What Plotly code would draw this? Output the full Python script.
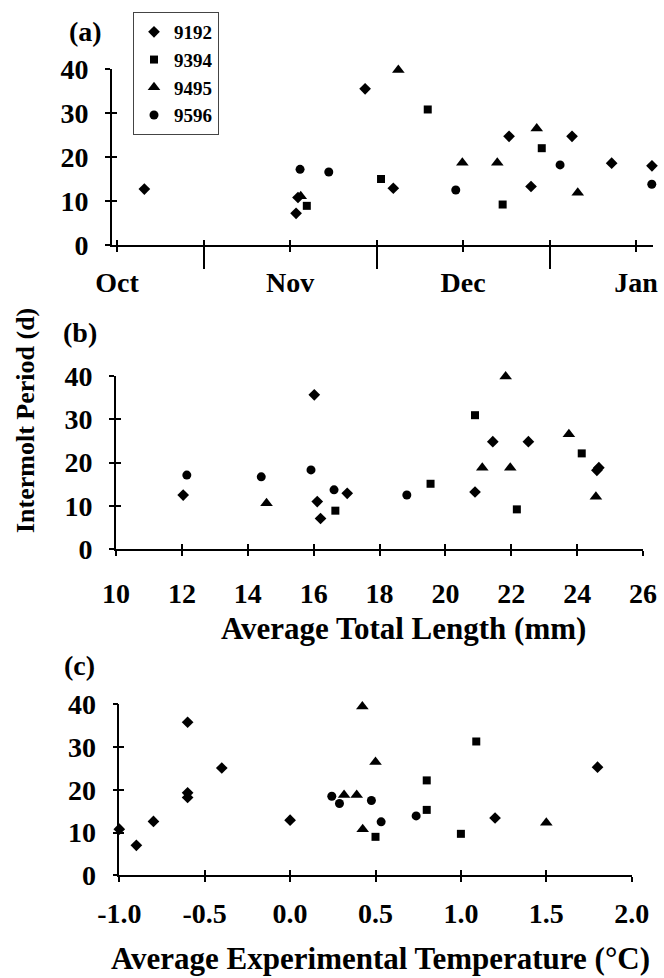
import plotly.graph_objects as go

W, H = 664, 978

# ---------------- data ----------------
series_names = ["9192", "9394", "9495", "9596"]
series_symbols = ["diamond", "square", "triangle-up", "circle"]
series_sizes = [9, 8, 11, 9]

# (a) date, in months since start of October
month_ticks = [0, 1, 2, 3]
month_labels = ["Oct", "Nov", "Dec", "Jan"]
month_mid_ticks = [0.5, 1.5, 2.5]

a_9192_x = [0.158, 1.035, 1.046, 1.434, 1.597, 2.266, 2.393, 2.630, 2.859, 3.092]
a_9192_y = [12.7, 7.2, 10.8, 35.5, 12.9, 24.7, 13.3, 24.7, 18.6, 18.0]
a_9394_x = [1.097, 1.526, 1.796, 2.229, 2.455]
a_9394_y = [8.9, 15.0, 30.8, 9.2, 22.0]
a_9495_x = [1.062, 1.626, 1.996, 2.198, 2.426, 2.663]
a_9495_y = [11.1, 39.8, 18.7, 18.7, 26.5, 11.9]
a_9596_x = [1.058, 1.224, 1.958, 2.561, 3.091]
a_9596_y = [17.2, 16.6, 12.5, 18.2, 13.8]

# (b) average total length (mm)
b_9192_x = [12.04, 16.02, 16.11, 16.21, 17.02, 20.90, 21.44, 22.52, 24.60, 24.66]
b_9192_y = [12.5, 35.6, 11.0, 7.1, 12.9, 13.2, 24.8, 24.8, 18.2, 18.8]
b_9394_x = [16.66, 19.55, 20.90, 22.17, 24.14]
b_9394_y = [8.9, 15.1, 30.9, 9.2, 22.1]
b_9495_x = [14.57, 21.12, 21.83, 21.97, 23.75, 24.57]
b_9495_y = [10.6, 18.8, 39.8, 18.8, 26.5, 12.1]
b_9596_x = [12.15, 14.41, 15.92, 16.62, 18.83]
b_9596_y = [17.1, 16.7, 18.3, 13.7, 12.5]

# (c) average experimental temperature (°C)
c_9192_x = [-1.0, -0.9, -0.8, -0.6, -0.6, -0.6, -0.4, 0.0, 1.2, 1.8]
c_9192_y = [10.8, 7.0, 12.6, 35.8, 19.3, 18.2, 25.1, 12.9, 13.4, 25.3]
c_9394_x = [0.50, 0.80, 0.80, 1.00, 1.09]
c_9394_y = [9.0, 15.3, 22.2, 9.7, 31.3]
c_9495_x = [0.316, 0.390, 0.423, 0.425, 0.500, 1.500]
c_9495_y = [18.8, 18.8, 39.5, 10.8, 26.5, 12.3]
c_9596_x = [0.244, 0.289, 0.476, 0.533, 0.738]
c_9596_y = [18.5, 16.8, 17.5, 12.5, 13.9]

y_ticks = [0, 10, 20, 30, 40]
b_ticks = [10, 12, 14, 16, 18, 20, 22, 24, 26]
c_ticks = [-1.0, -0.5, 0.0, 0.5, 1.0, 1.5, 2.0]
c_labels = ["-1.0", "-0.5", "0.0", "0.5", "1.0", "1.5", "2.0"]

panels = {
    "a": [(a_9192_x, a_9192_y), (a_9394_x, a_9394_y), (a_9495_x, a_9495_y), (a_9596_x, a_9596_y)],
    "b": [(b_9192_x, b_9192_y), (b_9394_x, b_9394_y), (b_9495_x, b_9495_y), (b_9596_x, b_9596_y)],
    "c": [(c_9192_x, c_9192_y), (c_9394_x, c_9394_y), (c_9495_x, c_9495_y), (c_9596_x, c_9596_y)],
}
axes_of = {"a": ("x", "y"), "b": ("x2", "y2"), "c": ("x3", "y3")}

FAMILY = "Liberation Serif, Times New Roman, serif"

fig = go.Figure()
for p, data in panels.items():
    xa, ya = axes_of[p]
    for i, (xs, ys) in enumerate(data):
        fig.add_trace(go.Scatter(
            x=xs, y=ys, mode="markers", xaxis=xa, yaxis=ya,
            name=series_names[i], legendgroup=series_names[i],
            showlegend=(p == "a"), cliponaxis=False,
            marker=dict(symbol=series_symbols[i], size=series_sizes[i], color="black",
                        line=dict(width=0)),
        ))

# empty helper traces so overlay tick axes are drawn
for xa, ya in [("x4", "y"), ("x", "y4"), ("x5", "y2"), ("x2", "y5"), ("x6", "y3"), ("x3", "y6")]:
    fig.add_trace(go.Scatter(x=[], y=[], xaxis=xa, yaxis=ya, showlegend=False, hoverinfo="skip"))


def px_x(v):
    return v / W


def px_y(v):
    return 1 - v / H


dom = {
    "a": ([px_x(112), px_x(653)], [px_y(245), px_y(69)], [-0.029, 3.098]),
    "b": ([px_x(116), px_x(643)], [px_y(549.3), px_y(375.7)], [10, 26]),
    "c": ([px_x(119.3), px_x(631.7)], [px_y(875.3), px_y(704.3)], [-1.0, 2.0]),
}

TF = dict(family=FAMILY, size=28, color="black", weight="bold")
LINE = dict(showline=True, linecolor="black", linewidth=1.6, showgrid=False, zeroline=False,
            tickcolor="black", tickwidth=1.5, ticklen=5, ticks="outside", tickfont=TF,
            automargin=False)

base_y = dict(range=[0, 40], tickmode="array", tickvals=y_ticks, ticklabelstandoff=11, **LINE)

layout_axes = {}
# (a)
layout_axes["xaxis"] = dict(domain=dom["a"][0], anchor="y", range=dom["a"][2], tickmode="array",
                            tickvals=month_ticks, ticktext=month_labels, ticklabelstandoff=7,
                            minor=dict(tickmode="array", tickvals=month_mid_ticks, ticks="outside",
                                       ticklen=22, tickwidth=1.5, tickcolor="black"),
                            **LINE)
layout_axes["yaxis"] = dict(domain=dom["a"][1], anchor="x", **base_y)
# (b)
layout_axes["xaxis2"] = dict(domain=dom["b"][0], anchor="y2", range=dom["b"][2], tickmode="array",
                             tickvals=b_ticks, ticklabelstandoff=13, **LINE)
layout_axes["yaxis2"] = dict(domain=dom["b"][1], anchor="x2", **base_y)
# (c)
layout_axes["xaxis3"] = dict(domain=dom["c"][0], anchor="y3", range=dom["c"][2], tickmode="array",
                             tickvals=c_ticks, ticktext=c_labels, ticklabelstandoff=7, **LINE)
layout_axes["yaxis3"] = dict(domain=dom["c"][1], anchor="x3", **base_y)

# overlay axes carrying the inner half of the crossing tick marks
INNER = dict(showline=False, showgrid=False, zeroline=False, showticklabels=False,
             ticks="inside", ticklen=5, tickwidth=1.5, tickcolor="black", tickmode="array",
             automargin=False)
layout_axes["xaxis4"] = dict(overlaying="x", anchor="y", range=dom["a"][2],
                             tickvals=month_ticks + month_mid_ticks, **INNER)
layout_axes["yaxis4"] = dict(overlaying="y", anchor="x", range=[0, 40], tickvals=y_ticks, **INNER)
layout_axes["xaxis5"] = dict(overlaying="x2", anchor="y2", range=dom["b"][2], tickvals=b_ticks, **INNER)
layout_axes["yaxis5"] = dict(overlaying="y2", anchor="x2", range=[0, 40], tickvals=y_ticks, **INNER)
layout_axes["xaxis6"] = dict(overlaying="x3", anchor="y3", range=dom["c"][2], tickvals=c_ticks, **INNER)
layout_axes["yaxis6"] = dict(overlaying="y3", anchor="x3", range=[0, 40], tickvals=y_ticks, **INNER)

ann_font = dict(family=FAMILY, color="black", weight="bold")
annotations = [
    dict(text="(a)", x=px_x(85), y=px_y(32)),
    dict(text="(b)", x=px_x(80), y=px_y(332)),
    dict(text="(c)", x=px_x(79), y=px_y(665)),
]
for a in annotations:
    a.update(xref="paper", yref="paper", showarrow=False, xanchor="center", yanchor="middle",
             font=dict(size=28, **ann_font))
annotations += [
    dict(text="Intermolt Period (d)", x=px_x(25), y=px_y(421), textangle=-90,
         xref="paper", yref="paper", showarrow=False, xanchor="center", yanchor="middle",
         font=dict(size=26, **ann_font)),
    dict(text="Average Total Length (mm)", x=px_x(403), y=px_y(628),
         xref="paper", yref="paper", showarrow=False, xanchor="center", yanchor="middle",
         font=dict(size=31, **ann_font)),
    dict(text="Average Experimental Temperature (°C)", x=px_x(380), y=px_y(958),
         xref="paper", yref="paper", showarrow=False, xanchor="center", yanchor="middle",
         font=dict(size=31, **ann_font)),
]

fig.update_layout(
    template="none",
    width=W, height=H, margin=dict(l=0, r=0, t=0, b=0, autoexpand=False),
    paper_bgcolor="white", plot_bgcolor="white",
    font=dict(family=FAMILY, color="black", weight="bold"),
    showlegend=True,
    legend=dict(x=px_x(133), y=px_y(12), xanchor="left", yanchor="top",
                bgcolor="white", bordercolor="#444", borderwidth=1,
                font=dict(family=FAMILY, size=19, color="black", weight="bold"),
                itemwidth=30, tracegroupgap=0),
    annotations=annotations,
    **layout_axes,
)

fig.write_html("out.html", config={"displayModeBar": False},
               post_script="document.body.style.margin='0';document.body.style.overflow='hidden';")
